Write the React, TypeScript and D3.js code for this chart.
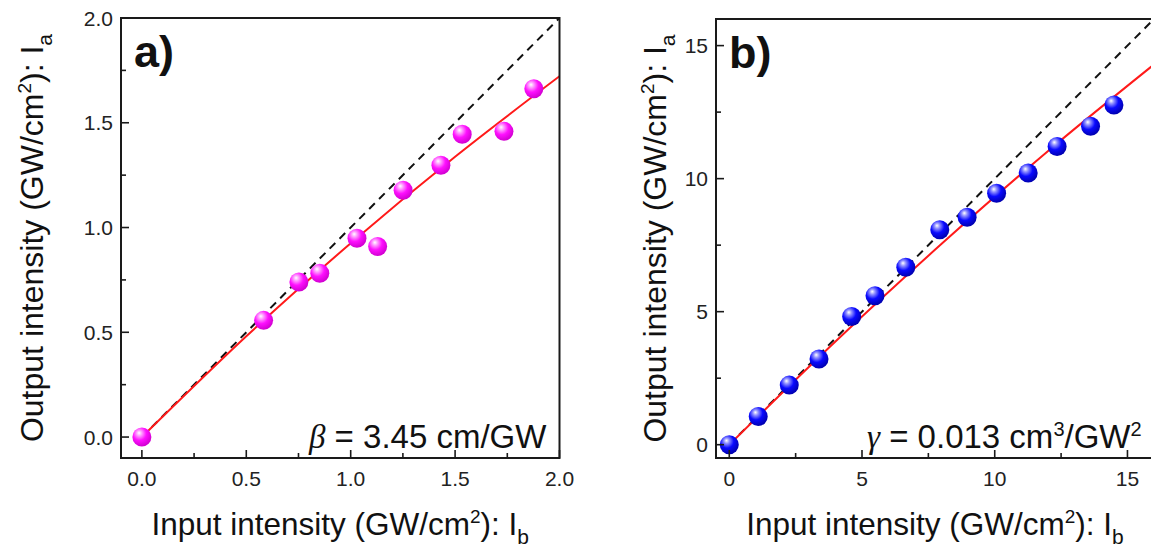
import React from "react";
import * as d3 from "d3";

// ---------- data ----------
const inputA = [0, 0.583, 0.752, 0.852, 1.03, 1.129, 1.251, 1.432, 1.534, 1.734, 1.877];
const outputA = [0, 0.557, 0.74, 0.782, 0.949, 0.909, 1.178, 1.297, 1.445, 1.459, 1.662];
const fitAx = [0, 0.5, 1.0, 1.5, 2.0];
const fitAy = [0, 0.481, 0.925, 1.338, 1.722];

const inputB = [0, 1.09, 2.26, 3.38, 4.61, 5.49, 6.65, 7.93, 8.96, 10.07, 11.26, 12.35, 13.61, 14.49];
const outputB = [0, 1.06, 2.24, 3.22, 4.82, 5.6, 6.67, 8.08, 8.55, 9.45, 10.21, 11.21, 11.97, 12.77];
const fitBx = [0, 4, 8, 12, 16];
const fitBy = [0, 3.88, 7.55, 11.03, 14.29];

const ticksA = [0, 0.5, 1.0, 1.5, 2.0];
const minorA = [0.25, 0.75, 1.25, 1.75];
const ticksB = [0, 5, 10, 15];
const minorB = [2.5, 7.5, 12.5];

const FONT = "'Liberation Sans', Arial, Helvetica, sans-serif";
const GREEK = "'Liberation Serif', 'DejaVu Serif', serif";
const INK = "#1a1a1a";

type PanelProps = {
  id: string;
  x: d3.ScaleLinear<number, number>;
  y: d3.ScaleLinear<number, number>;
  xs: number[];
  ys: number[];
  fx: number[];
  fy: number[];
  diag: number;
  ticks: number[];
  minor: number[];
  fmt: (v: number) => string;
  label: string;
  annotation: React.ReactNode;
  annX: number;
  yLabelX: number;
};

function Panel(p: PanelProps) {
  const { x, y } = p;
  const [x0, x1] = x.range();
  const [y0, y1] = y.range(); // y0 bottom, y1 top
  const fitLine = d3
    .line<number>()
    .x((_, i) => x(p.fx[i]))
    .y((_, i) => y(p.fy[i]))
    .curve(d3.curveMonotoneX);
  const cx = (x0 + x1) / 2;
  const cy = (y0 + y1) / 2;
  return (
    <g>
      <defs>
        <clipPath id={`clip-${p.id}`}>
          <rect x={x0} y={y1} width={x1 - x0} height={y0 - y1} />
        </clipPath>
      </defs>
      <g clipPath={`url(#clip-${p.id})`}>
        <line
          x1={x(0)}
          y1={y(0)}
          x2={x(p.diag)}
          y2={y(p.diag)}
          stroke="#111"
          strokeWidth={2}
          strokeDasharray="8,6"
        />
        <path d={fitLine(p.fx) || ""} fill="none" stroke="#ff1a1a" strokeWidth={2} />
        {p.xs.map((v, i) => (
          <circle key={i} cx={x(v)} cy={y(p.ys[i])} r={9.5} fill={`url(#grad-${p.id})`} />
        ))}
      </g>
      {/* frame */}
      <rect x={x0} y={y1} width={x1 - x0} height={y0 - y1} fill="none" stroke={INK} strokeWidth={2} />
      {/* x ticks (inward) */}
      {p.ticks.map((t) => (
        <g key={"xt" + t}>
          <line x1={x(t)} x2={x(t)} y1={y0} y2={y0 - 8} stroke={INK} strokeWidth={1.6} />
          <text x={x(t)} y={y0 + 28} textAnchor="middle" fontSize={21} fontFamily={FONT} fill="#222">
            {p.fmt(t)}
          </text>
        </g>
      ))}
      {p.minor.map((t) => (
        <line key={"xm" + t} x1={x(t)} x2={x(t)} y1={y0} y2={y0 - 5} stroke={INK} strokeWidth={1.6} />
      ))}
      {/* y ticks (inward) */}
      {p.ticks.map((t) => (
        <g key={"yt" + t}>
          <line x1={x0} x2={x0 + 8} y1={y(t)} y2={y(t)} stroke={INK} strokeWidth={1.6} />
          <text x={x0 - 8} y={y(t)} dy="0.36em" textAnchor="end" fontSize={21} fontFamily={FONT} fill="#222">
            {p.fmt(t)}
          </text>
        </g>
      ))}
      {p.minor.map((t) => (
        <line key={"ym" + t} x1={x0} x2={x0 + 5} y1={y(t)} y2={y(t)} stroke={INK} strokeWidth={1.6} />
      ))}
      {/* panel label */}
      <text x={x0 + 13} y={y1 + 49} fontSize={45} fontWeight="bold" fontFamily={FONT} fill="#111">
        {p.label}
      </text>
      {/* annotation */}
      <text x={p.annX} y={y0 - 10} fontSize={33} fontFamily={FONT} fill="#111">
        {p.annotation}
      </text>
      {/* x title */}
      <text x={cx} y={535} textAnchor="middle" fontSize={31.5} fontFamily={FONT} fill="#111">
        Input intensity (GW/cm
        <tspan dy={-12} fontSize={19}>2</tspan>
        <tspan dy={12}>): I</tspan>
        <tspan dy={9} fontSize={21}>b</tspan>
      </text>
      {/* y title */}
      <text
        transform={`translate(${p.yLabelX},${cy}) rotate(-90)`}
        textAnchor="middle"
        fontSize={32}
        fontFamily={FONT}
        fill="#111"
      >
        Output intensity (GW/cm
        <tspan dy={-12} fontSize={19}>2</tspan>
        <tspan dy={12}>): I</tspan>
        <tspan dy={9} fontSize={21}>a</tspan>
      </text>
    </g>
  );
}

export default function App() {
  const xA = d3.scaleLinear().domain([-0.1, 2.0]).range([121, 559.5]);
  const yA = d3.scaleLinear().domain([-0.1, 2.0]).range([458, 18]);
  const xB = d3.scaleLinear().domain([-0.5, 16]).range([716, 1154]);
  const yB = d3.scaleLinear().domain([-0.5, 16]).range([458, 19]);

  return (
    <svg
      width={1151}
      height={553}
      style={{ position: "absolute", left: 0, top: 0, background: "#fff" }}
    >
      <defs>
        <radialGradient id="grad-a" cx="40%" cy="35%" r="65%" fx="35%" fy="28%">
          <stop offset="0%" stopColor="#ffffff" />
          <stop offset="22%" stopColor="#ff9cff" />
          <stop offset="55%" stopColor="#ff10ff" />
          <stop offset="100%" stopColor="#d000d0" />
        </radialGradient>
        <radialGradient id="grad-b" cx="40%" cy="35%" r="65%" fx="35%" fy="28%">
          <stop offset="0%" stopColor="#ffffff" />
          <stop offset="22%" stopColor="#9090ff" />
          <stop offset="55%" stopColor="#0a0aff" />
          <stop offset="100%" stopColor="#0000b0" />
        </radialGradient>
      </defs>
      <rect x={0} y={0} width={1151} height={553} fill="#fff" />
      <Panel
        id="a"
        x={xA}
        y={yA}
        xs={inputA}
        ys={outputA}
        fx={fitAx}
        fy={fitAy}
        diag={2.0}
        ticks={ticksA}
        minor={minorA}
        fmt={d3.format(".1f")}
        label="a)"
        annX={309}
        yLabelX={43}
        annotation={
          <>
            <tspan fontStyle="italic" fontFamily={GREEK}>β</tspan>
            <tspan> = 3.45 cm/GW</tspan>
          </>
        }
      />
      <Panel
        id="b"
        x={xB}
        y={yB}
        xs={inputB}
        ys={outputB}
        fx={fitBx}
        fy={fitBy}
        diag={16}
        ticks={ticksB}
        minor={minorB}
        fmt={d3.format("d")}
        label="b)"
        annX={867}
        yLabelX={666}
        annotation={
          <>
            <tspan fontStyle="italic" fontFamily={GREEK}>γ</tspan>
            <tspan> = 0.013 cm</tspan>
            <tspan dy={-12} fontSize={20}>3</tspan>
            <tspan dy={12}>/GW</tspan>
            <tspan dy={-12} fontSize={20}>2</tspan>
          </>
        }
      />
    </svg>
  );
}
